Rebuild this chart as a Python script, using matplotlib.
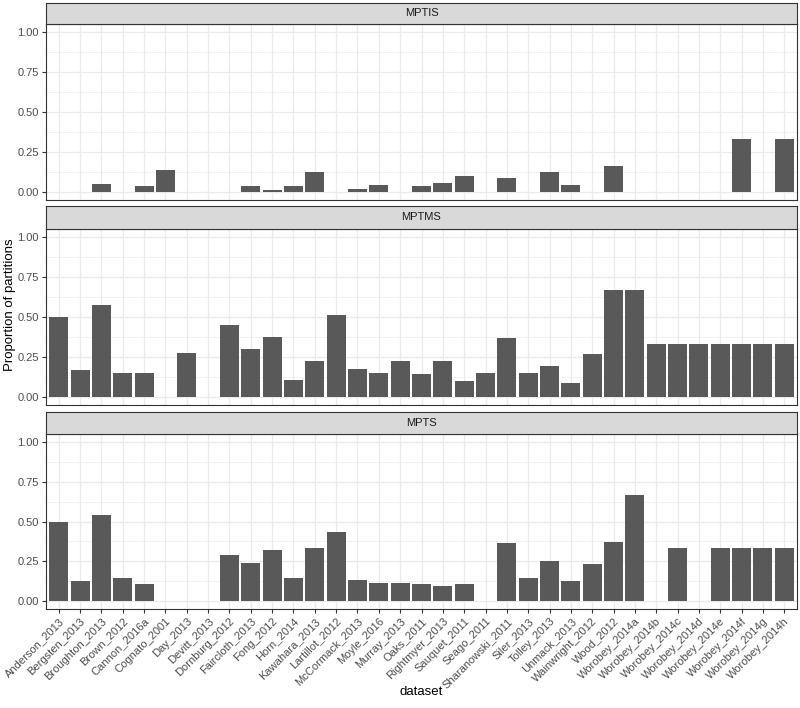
import numpy as np
import matplotlib.pyplot as plt

plt.rcParams['font.family'] = ['Liberation Sans', 'DejaVu Sans']

datasets = ['Anderson_2013', 'Bergsten_2013', 'Broughton_2013', 'Brown_2012',
            'Cannon_2016a', 'Cognato_2001', 'Day_2013', 'Devitt_2013',
            'Dornburg_2012', 'Faircloth_2013', 'Fong_2012', 'Horn_2014',
            'Kawahara_2013', 'Lartillot_2012', 'McCormack_2013', 'Moyle_2016',
            'Murray_2013', 'Oaks_2011', 'Rightmyer_2013', 'Sauquet_2011',
            'Seago_2011', 'Sharanowski_2011', 'Siler_2013', 'Tolley_2013',
            'Unmack_2013', 'Wainwright_2012', 'Wood_2012', 'Worobey_2014a',
            'Worobey_2014b', 'Worobey_2014c', 'Worobey_2014d', 'Worobey_2014e',
            'Worobey_2014f', 'Worobey_2014g', 'Worobey_2014h']

# NaN = no bar for that dataset
nan = np.nan
mptis = [nan, nan, 0.053, nan, 0.036, 0.14, nan, nan,
         nan, 0.036, 0.01, 0.036, 0.124, nan, 0.017, 0.042,
         nan, 0.038, 0.055, 0.10, nan, 0.09, nan, 0.124,
         0.046, nan, 0.163, nan, nan, nan, nan, nan,
         0.333, nan, 0.333]
mptms = [0.50, 0.17, 0.575, 0.147, 0.147, nan, 0.275, nan,
         0.45, 0.298, 0.377, 0.107, 0.226, 0.512, 0.174, 0.147,
         0.226, 0.143, 0.226, 0.103, 0.147, 0.367, 0.147, 0.193,
         0.09, 0.27, 0.667, 0.667, 0.333, 0.333, 0.333, 0.333,
         0.333, 0.333, 0.333]
mpts = [0.50, 0.125, 0.544, 0.144, 0.107, nan, nan, nan,
        0.289, 0.237, 0.322, 0.144, 0.333, 0.431, 0.132, 0.111,
        0.115, 0.105, 0.092, 0.105, nan, 0.362, 0.144, 0.251,
        0.127, 0.234, 0.372, 0.667, nan, 0.333, nan, 0.333,
        0.333, 0.333, 0.333]

panels = [('MPTIS', mptis), ('MPTMS', mptms), ('MPTS', mpts)]

W, H = 800, 708
fig = plt.figure(figsize=(W / 100, H / 100), dpi=100)

# pixel layout: (strip top, strip bottom/panel top, panel bottom)
rows = [(2.7, 24, 200), (206, 229, 405), (412, 434, 609)]
left, right = 46, 797

x = np.arange(len(datasets))
for i, ((name, vals), (st, pt, pb)) in enumerate(zip(panels, rows)):
    ax = fig.add_axes([left / W, 1 - pb / H, (right - left) / W, (pb - pt) / H])
    ax.bar(x, np.nan_to_num(vals), width=0.9, color='#595959', zorder=3)
    ax.set_xlim(-0.6, len(datasets) - 0.4)
    ax.set_ylim(-0.05, 1.05)
    ax.set_yticks([0, 0.25, 0.5, 0.75, 1.0])
    ax.set_yticklabels(['0.00', '0.25', '0.50', '0.75', '1.00'])
    ax.set_yticks([0.125, 0.375, 0.625, 0.875], minor=True)
    ax.set_xticks(x)
    ax.grid(which='major', color='#EBEBEB', lw=0.9, zorder=0)
    ax.grid(which='minor', axis='y', color='#EBEBEB', lw=0.45, zorder=0)
    ax.tick_params(which='minor', length=0)
    ax.tick_params(which='major', length=3, width=0.8, color='#333333',
                   labelcolor='#4D4D4D', labelsize=8, pad=2)
    for s in ax.spines.values():
        s.set_color('#333333')
        s.set_linewidth(0.8)
    if i < 2:
        ax.tick_params(axis='x', length=0, labelbottom=False)
    else:
        ax.set_xticklabels(datasets, rotation=45, ha='right',
                           rotation_mode='anchor')
    # facet strip
    sax = fig.add_axes([left / W, 1 - pt / H, (right - left) / W, (pt - st) / H])
    sax.set_facecolor('#D9D9D9')
    sax.set_xticks([])
    sax.set_yticks([])
    for s in sax.spines.values():
        s.set_color('#333333')
        s.set_linewidth(0.8)
    sax.text(0.5, 0.5, name, ha='center', va='center', fontsize=8,
             color='#1A1A1A', transform=sax.transAxes)

fig.text(10 / W, 1 - 305 / H, 'Proportion of partitions', rotation=90,
         ha='center', va='center', fontsize=9.5, color='black')
fig.text(421 / W, 1 - 692 / H, 'dataset', ha='center', va='center',
         fontsize=9.5, color='black')

fig.savefig('out.png', dpi=100)
